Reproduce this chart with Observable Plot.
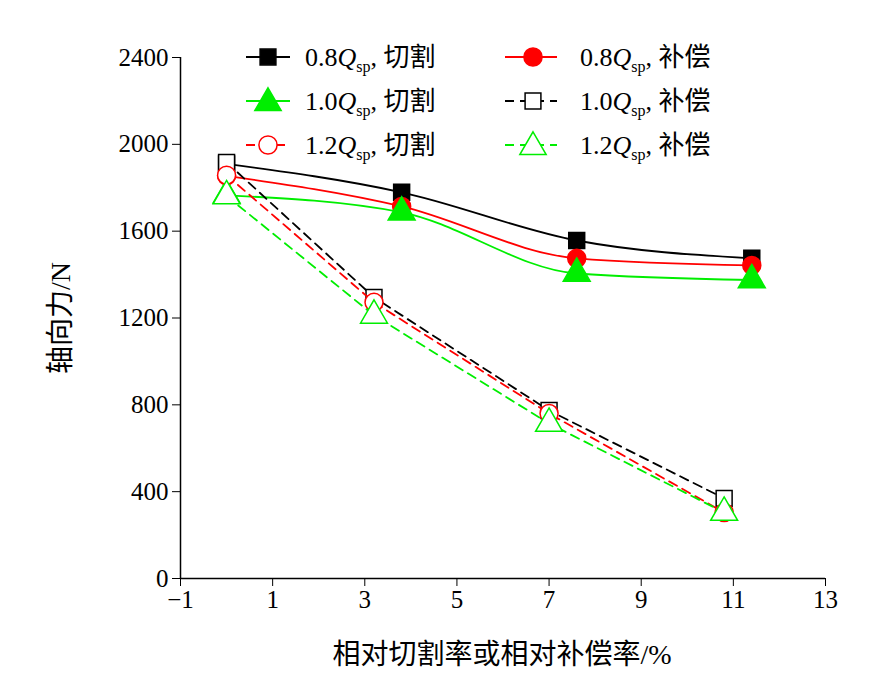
<!DOCTYPE html><html><head><meta charset="utf-8">
<script src="https://cdn.jsdelivr.net/npm/d3@7"></script>
<script src="https://cdn.jsdelivr.net/npm/@observablehq/plot@0.6"></script>
<style>body{margin:0;background:#fff;font-family:"Liberation Serif","Noto Sans CJK SC",serif}#c{position:relative;width:886px;height:676px}
#lg{position:absolute;left:0;top:0;pointer-events:none}
#c svg.plot text{font-size:25px !important}</style></head><body><div id="c"></div>
<script>
const xCut=[0,3.8,7.6,11.4];
const xComp=[0,3.2,7.0,10.8];
const s08cut=[1910,1779,1557,1475];
const s08comp=[1855,1714,1475,1442];
const s10cut=[1765,1687,1405,1375];
const s10comp=[1917,1295,774,369];
const s12cut=[1858,1272,760,304];
const s12comp=[1762,1212,714,304];
const xTicks=[-1,1,3,5,7,9,11,13];
const yTicks=[0,400,800,1200,1600,2000,2400];
const series=[
 {name:"0.8",kind:"切割",xs:xCut,ys:s08cut,color:"#000",sym:"square",fill:true,dash:false},
 {name:"0.8",kind:"补偿",xs:xCut,ys:s08comp,color:"#f00",sym:"circle",fill:true,dash:false},
 {name:"1.0",kind:"切割",xs:xCut,ys:s10cut,color:"#0e0",sym:"triangle",fill:true,dash:false},
 {name:"1.0",kind:"补偿",xs:xComp,ys:s10comp,color:"#000",sym:"square",fill:false,dash:true},
 {name:"1.2",kind:"切割",xs:xComp,ys:s12cut,color:"#f00",sym:"circle",fill:false,dash:true},
 {name:"1.2",kind:"补偿",xs:xComp,ys:s12comp,color:"#0e0",sym:"triangle",fill:false,dash:true}];
const marks=[];
for(const s of series){
 const d=s.xs.map((x,i)=>({x,y:s.ys[i]}));
 marks.push(Plot.line(d,{x:"x",y:"y",stroke:s.color,strokeWidth:1.8,curve:s.dash?"linear":"monotone-x",strokeDasharray:s.dash?"9,6":null}));
 marks.push(Plot.dot(d,{x:"x",y:"y",symbol:s.sym,r:s.sym==="triangle"?10:9,stroke:s.color,strokeWidth:1.5,fill:s.fill?s.color:"#fff"}));
}
const fx=d=>d<0?"−"+(-d):String(d);
const p=Plot.plot({width:886,height:676,marginLeft:180,marginRight:61,marginTop:57,marginBottom:98,
 style:{fontFamily:"Liberation Serif, Noto Sans CJK SC, serif",fontSize:"25px",color:"#000",background:"#fff"},
 x:{domain:[-1,13],label:null},
 y:{domain:[0,2400],label:null},
 marks:[Plot.axisX({ticks:xTicks,tickFormat:fx,tickSize:8,tickPadding:4,label:null}),
  Plot.axisY({ticks:yTicks,tickFormat:d=>String(d),tickSize:8,tickPadding:4,label:null}),
  Plot.ruleX([-1],{strokeWidth:1.5}),Plot.ruleY([0],{strokeWidth:1.5}),...marks]});
const c=document.getElementById("c");c.appendChild(p);
const o=d3.select(c).append("svg").attr("id","lg").attr("width",886).attr("height",676).style("font-family","Liberation Serif, Noto Sans CJK SC, serif");
o.append("text").attr("x",502).attr("y",664).attr("text-anchor","middle").attr("font-size",28).text("相对切割率或相对补偿率/%");
o.append("text").attr("transform","translate(70,318) rotate(-90)").attr("text-anchor","middle").attr("font-size",28).text("轴向力/N");
const sym={square:d3.symbolSquare,circle:d3.symbolCircle,triangle:d3.symbolTriangle};
series.forEach((s,i)=>{
 const col=i%2,row=Math.floor(i/2);
 const x0=col?505:246,cx=col?533:268,y=57+row*44,tx=col?580:305;
 o.append("line").attr("x1",x0).attr("x2",x0+(col?52:44)).attr("y1",y).attr("y2",y).attr("stroke",s.color).attr("stroke-width",1.8).attr("stroke-dasharray",s.dash?"9,6":null);
 const sz=s.sym==="triangle"?300:s.sym==="circle"?260:250;
 o.append("path").attr("d",d3.symbol(sym[s.sym],sz)()).attr("transform",`translate(${cx},${y+(s.sym==="triangle"?2:0)})`).attr("fill",s.fill?s.color:"#fff").attr("stroke",s.color).attr("stroke-width",1.5);
 const t=o.append("text").attr("x",tx).attr("y",y+9).attr("font-size",26);
 t.append("tspan").text(s.name);
 t.append("tspan").attr("font-style","italic").text("Q");
 t.append("tspan").attr("font-size",16).attr("dy",6).text("sp");
 t.append("tspan").attr("dy",-6).text(", "+s.kind);
});
</script></body></html>
